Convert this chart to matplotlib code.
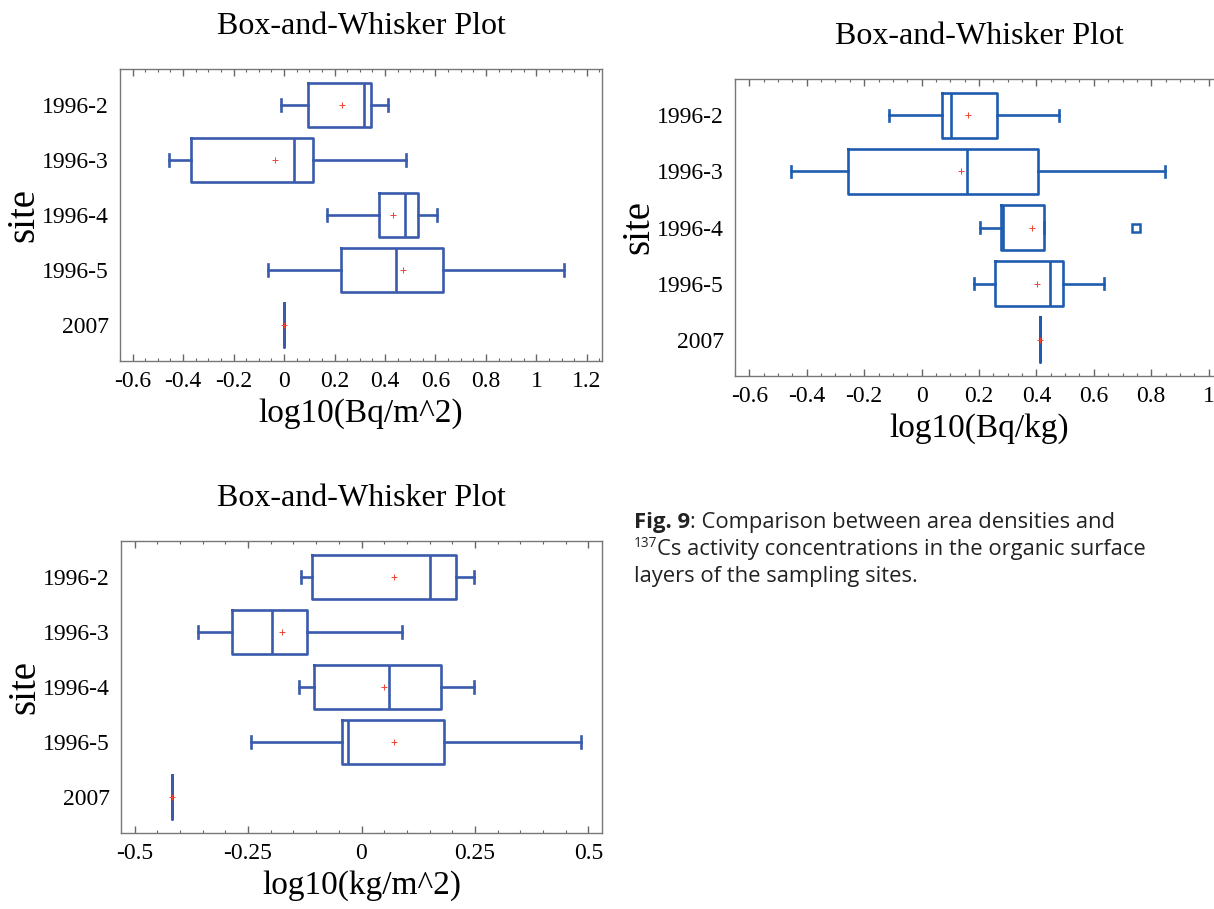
import matplotlib
matplotlib.use('Agg')
import matplotlib.pyplot as plt
from matplotlib.ticker import MultipleLocator

plt.rcParams['font.family'] = ['Liberation Serif', 'DejaVu Serif']

sites = ['1996-2', '1996-3', '1996-4', '1996-5', '2007']

# area activity density, log10(Bq/m^2)
bqm2_whislo = [-0.013, -0.455, 0.170, -0.063, 0.0]
bqm2_q1 = [0.093, -0.367, 0.375, 0.224, 0.0]
bqm2_med = [0.316, 0.038, 0.481, 0.445, 0.0]
bqm2_q3 = [0.345, 0.116, 0.530, 0.629, 0.0]
bqm2_whishi = [0.412, 0.484, 0.606, 1.109, 0.0]
bqm2_mean = [0.230, -0.036, 0.432, 0.470, 0.0]

# activity concentration, log10(Bq/kg)
bqkg_whislo = [-0.112, -0.455, 0.203, 0.183, 0.413]
bqkg_q1 = [0.070, -0.255, 0.278, 0.257, 0.413]
bqkg_med = [0.104, 0.159, 0.285, 0.449, 0.413]
bqkg_q3 = [0.262, 0.405, 0.425, 0.492, 0.413]
bqkg_whishi = [0.480, 0.848, 0.425, 0.634, 0.413]
bqkg_mean = [0.160, 0.139, 0.386, 0.402, 0.413]
bqkg_fliers = [[], [], [0.746], [], []]

# area density of the layer, log10(kg/m^2)
kgm2_whislo = [-0.133, -0.360, -0.138, -0.243, -0.418]
kgm2_q1 = [-0.110, -0.285, -0.104, -0.043, -0.418]
kgm2_med = [0.152, -0.198, 0.060, -0.030, -0.418]
kgm2_q3 = [0.208, -0.120, 0.175, 0.182, -0.418]
kgm2_whishi = [0.247, 0.090, 0.247, 0.483, -0.418]
kgm2_mean = [0.072, -0.175, 0.049, 0.071, -0.418]

W, H = 1214, 909
fig = plt.figure(figsize=(W / 100, H / 100), dpi=100)


def px_axes(left, top, right, bottom):
    return fig.add_axes([left / W, 1 - bottom / H, (right - left) / W, (bottom - top) / H])


def make_stats(whislo, q1, med, q3, whishi, mean, fliers=None):
    stats = []
    for i in range(len(sites)):
        stats.append(dict(whislo=whislo[i], q1=q1[i], med=med[i], q3=q3[i],
                          whishi=whishi[i], mean=mean[i],
                          fliers=fliers[i] if fliers else []))
    return stats


def draw_panel(ax, stats, color, xlim, major, xlabel):
    lp = dict(color=color, linewidth=1.9)
    ax.bxp(stats, positions=range(len(sites)), widths=0.8, capwidths=0.21,
           orientation='horizontal', showmeans=True,
           boxprops=lp, whiskerprops=lp, capprops=lp, medianprops=lp,
           meanprops=dict(marker='+', markeredgecolor='#ee4433', markersize=5,
                          markeredgewidth=0.7),
           flierprops=dict(marker='s', markerfacecolor='white', markeredgecolor=color,
                           markersize=6, markeredgewidth=1.8))
    ax.set_ylim(len(sites) - 1 + 0.65, -0.65)
    ax.set_xlim(*xlim)
    ax.set_yticks(range(len(sites)))
    ax.set_yticklabels(sites)
    ax.xaxis.set_major_locator(MultipleLocator(major))
    ax.xaxis.set_minor_locator(MultipleLocator(0.05))
    ax.xaxis.set_major_formatter(plt.FuncFormatter(lambda v, p: f'{v:g}' if abs(v) > 1e-9 else '0'))
    ax.tick_params(axis='x', which='both', direction='in', top=True, bottom=True,
                   color='#666666', labelsize=17, pad=7)
    ax.tick_params(axis='x', which='major', length=5, width=1)
    ax.tick_params(axis='x', which='minor', length=2.5, width=0.8)
    ax.tick_params(axis='y', length=0, labelsize=17, pad=8)
    for s in ax.spines.values():
        s.set_color('#777777')
        s.set_linewidth(1.0)
    ax.set_title('Box-and-Whisker Plot', fontsize=23, pad=25)
    ax.set_xlabel(xlabel, fontsize=24, labelpad=5)
    ax.set_ylabel('site', fontsize=28, labelpad=0)


blue_left = '#3a5aad'
blue_right = '#1f5cb0'

ax1 = px_axes(120, 69, 602, 361)
draw_panel(ax1, make_stats(bqm2_whislo, bqm2_q1, bqm2_med, bqm2_q3, bqm2_whishi, bqm2_mean),
           blue_left, (-0.65, 1.26), 0.2, 'log10(Bq/m^2)')

ax2 = px_axes(735, 79, 1223, 376)
draw_panel(ax2, make_stats(bqkg_whislo, bqkg_q1, bqkg_med, bqkg_q3, bqkg_whishi, bqkg_mean,
                           bqkg_fliers),
           blue_right, (-0.65, 1.05), 0.2, 'log10(Bq/kg)')

ax3 = px_axes(121, 541, 602, 833)
draw_panel(ax3, make_stats(kgm2_whislo, kgm2_q1, kgm2_med, kgm2_q3, kgm2_whishi, kgm2_mean),
           blue_left, (-0.53, 0.53), 0.25, 'log10(kg/m^2)')

# caption
cap_font = ['Open Sans', 'DejaVu Sans']
cap_size = 15.8
cap_color = '#222222'
renderer = fig.canvas.get_renderer()


def put(x, y, s, **kw):
    t = fig.text(x / W, 1 - y / H, s, family=cap_font, va='baseline', color=cap_color, **kw)
    bb = t.get_window_extent(renderer)
    return x + bb.width


x = put(634, 528, 'Fig. 9', fontsize=cap_size, weight='bold')
put(x, 528, ': Comparison between area densities and', fontsize=cap_size)
x = put(634, 547, '137', fontsize=cap_size * 0.62)
put(x, 555, 'Cs activity concentrations in the organic surface', fontsize=cap_size)
put(634, 582, 'layers of the sampling sites.', fontsize=cap_size)

fig.savefig('out.png', dpi=100)
